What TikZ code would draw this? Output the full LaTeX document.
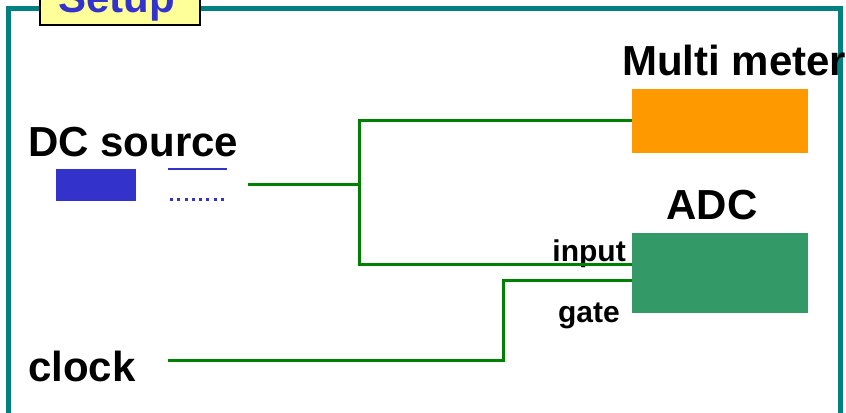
\documentclass[tikz,border=0pt]{standalone}
\usepackage{fontspec}
\setmainfont{Liberation Sans}
\usepackage{tikz}
\usepackage{xcolor}
\usetikzlibrary{positioning,calc}
\definecolor{frameTeal}{RGB}{0,128,128}
\definecolor{labelYellow}{RGB}{255,255,153}
\definecolor{srcBlue}{RGB}{51,51,204}
\definecolor{wireGreen}{RGB}{0,128,0}
\definecolor{meterOrange}{RGB}{255,153,0}
\definecolor{adcGreen}{RGB}{51,153,102}
\tikzset{
  bigtext/.style={inner sep=0pt, font=\fontsize{31.5pt}{36pt}\selectfont\bfseries},
  smalltext/.style={inner sep=0pt, font=\fontsize{22.5pt}{26pt}\selectfont\bfseries},
  wire/.style={wireGreen, line width=2.25pt},
  devbox/.style={rectangle, inner sep=0pt, minimum width=132pt}
}

\begin{document}
\begin{tikzpicture}[x=0.75pt, y=-0.75pt]
                    \clip (0,0) rectangle (846,413);
                    % frame and title
                    \draw[frameTeal, line width=3.75pt] (8,9) rectangle (840,460);
                    \node[draw=black, fill=labelYellow, line width=2pt, inner sep=0pt, minimum width=120pt, minimum height=45pt] (title) at (120,-5) {};
                    \node[bigtext, srcBlue, anchor=base west] (setup) at (58,13) {Setup};

                    % instruments
                    \node[devbox, fill=meterOrange, minimum height=48pt] (meter) at (720,121) {};
                    \node[devbox, fill=adcGreen, minimum height=60pt] (adc) at (720,273) {};
                    \node[bigtext, anchor=base west] (meterlbl) at (622,76) {Multi meter};
                    \node[bigtext, anchor=base] (adclbl) at (712,220) {ADC};
                    \node[smalltext, anchor=base east] (inlbl) at (626,262) {input};
                    \node[smalltext, anchor=base east] (gatelbl) at (620,322) {gate};

                    % DC source
                    \node[bigtext, anchor=base west] (dclbl) at (28,157) {DC source};
                    \node[rectangle, fill=srcBlue, inner sep=0pt, minimum width=60pt, minimum height=24pt] (dcbox) at (96,185) {};
                    \coordinate (solidL) at (168,169);
                    \coordinate (solidR) at (227,169);
                    \coordinate (dotL) at (170,200);
                    \coordinate (dotR) at (228,200);
                    \draw[srcBlue, line width=1.5pt] (solidL) -- (solidR);
                    \draw[srcBlue, line width=2.25pt, dash pattern=on 2.25pt off 3.2pt] (dotL) -- (dotR);

                    % clock
                    \node[bigtext, anchor=base west] (clklbl) at (28,381) {clock};

                    % wiring
                    \coordinate (src) at (248,185);
                    \coordinate (split) at (359,185);
                    \coordinate (inpt) at (632,265);
                    \coordinate (gt) at (632,281);
                    \coordinate (clk) at (168,360);
                    \draw[wire] (src) -- (split);
                    \draw[wire] (meter.west) -| (split) |- (inpt);
                    \draw[wire] (clk) -- (503,360) |- (gt);
                \end{tikzpicture}
\end{document}
